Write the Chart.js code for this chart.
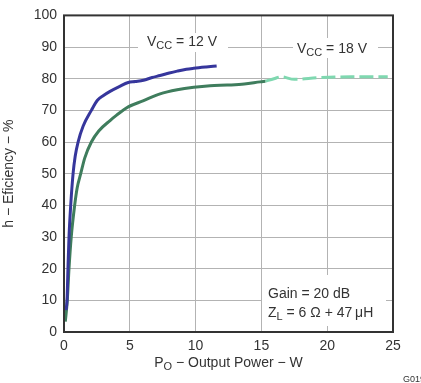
<!DOCTYPE html>
<html>
<head>
<meta charset="utf-8">
<script src="https://cdn.jsdelivr.net/npm/chart.js@4"></script>
<style>html,body{margin:0;padding:0;background:#fff;}canvas{display:block;}</style>
</head>
<body>
<canvas id="c" width="421" height="383"></canvas>
<script>
// Vcc = 12 V curve (blue)
const v12X = [0.15, 0.23, 0.3, 0.38, 0.51, 0.69, 0.85, 1.07, 1.45, 2.08, 2.54, 3.0, 3.5, 4.2, 4.88, 5.4, 6.04, 6.7, 7.3, 8.0, 8.6, 9.3, 9.86, 10.8, 11.6];
const v12Y = [6.9, 10, 20, 30, 40, 50, 55.5, 60, 65, 70, 73.2, 74.7, 76, 77.5, 78.8, 79.1, 79.5, 80.4, 81, 81.8, 82.4, 83, 83.3, 83.7, 84];
// Vcc = 18 V curve (dark green, solid part)
const v18X = [0.1, 0.25, 0.38, 0.55, 0.81, 1.0, 1.27, 1.58, 2.08, 2.64, 3.5, 4.0, 4.88, 6.0, 7.3, 8.6, 9.86, 11.1, 12.4, 13.7, 14.9, 15.3];
const v18Y = [3.3, 10, 20, 30, 40, 45.5, 50, 55, 60, 63.5, 66.8, 68.5, 71.1, 73, 75.2, 76.5, 77.3, 77.8, 78, 78.3, 79, 79.2];
// Vcc = 18 V curve (light green, dashed part)
const v18dX = [15.3, 15.95, 16.5, 17.5, 19.3, 21.8, 24.6];
const v18dY = [79.2, 80, 80.6, 79.8, 80.3, 80.6, 80.6];
const xTicks = [0, 5, 10, 15, 20, 25];
const yTicks = [0, 10, 20, 30, 40, 50, 60, 70, 80, 90, 100];

const FONT = '"Liberation Sans", Arial, sans-serif';
const TXT = '#333';
const pts = (xs, ys) => xs.map((x, i) => ({x, y: ys[i]}));

function drawParts(ctx, x, y, parts, align) {
  let w = 0;
  parts.forEach(p => { ctx.font = (p[1] ? '11px ' : '14px ') + FONT; w += ctx.measureText(p[0]).width; });
  let cx = align === 'center' ? x - w / 2 : x;
  ctx.textAlign = 'left';
  ctx.textBaseline = 'alphabetic';
  parts.forEach(p => {
    ctx.font = (p[1] ? '11px ' : '14px ') + FONT;
    ctx.fillText(p[0], cx, y + (p[1] ? 3 : 0));
    cx += ctx.measureText(p[0]).width;
  });
}

const deco = {
  id: 'deco',
  beforeDatasetsDraw(chart) {
    const ctx = chart.ctx;
    ctx.save();
    ctx.fillStyle = '#fff';
    ctx.fillRect(138, 33, 90, 19);
    ctx.fillRect(293, 38, 85, 20);
    ctx.fillRect(262, 275, 124, 51);
    ctx.restore();
  },
  afterDraw(chart) {
    const ctx = chart.ctx;
    const a = chart.chartArea;
    ctx.save();
    ctx.strokeStyle = '#333';
    ctx.lineWidth = 2;
    ctx.strokeRect(a.left, a.top, a.right - a.left, a.bottom - a.top);
    ctx.fillStyle = TXT;
    drawParts(ctx, 147, 46, [['V', 0], ['CC', 1], [' = 12 V', 0]]);
    drawParts(ctx, 297, 53, [['V', 0], ['CC', 1], [' = 18 V', 0]]);
    drawParts(ctx, 268, 298, [['Gain = 20 dB', 0]]);
    drawParts(ctx, 268, 317, [['Z', 0], ['L', 1], [' = 6 \u03A9 + 47\u2009\u03BCH', 0]]);
    drawParts(ctx, (a.left + a.right) / 2, 367, [['P', 0], ['O', 1], [' \u2212 Output Power \u2212 W', 0]], 'center');
    ctx.font = '9px ' + FONT;
    ctx.textAlign = 'left';
    ctx.fillText('G019', 403, 382);
    ctx.translate(13, (a.top + a.bottom) / 2);
    ctx.rotate(-Math.PI / 2);
    ctx.font = '14px ' + FONT;
    ctx.textAlign = 'center';
    ctx.fillText('h \u2212 Eficiency \u2212 %', 0, 0);
    ctx.restore();
  }
};

new Chart(document.getElementById('c'), {
  type: 'line',
  data: {
    datasets: [
      {data: pts(v12X, v12Y), borderColor: '#36369c', borderWidth: 3, pointRadius: 0, cubicInterpolationMode: 'monotone', fill: false},
      {data: pts(v18X, v18Y), borderColor: '#3f7d5d', borderWidth: 3, pointRadius: 0, cubicInterpolationMode: 'monotone', fill: false},
      {data: pts(v18dX, v18dY), borderColor: '#7fd8b0', borderWidth: 3, borderDash: [14, 5], pointRadius: 0, cubicInterpolationMode: 'monotone', fill: false}
    ]
  },
  options: {
    responsive: false,
    animation: false,
    layout: {padding: {left: 0, top: 5, right: 28, bottom: 0}},
    plugins: {legend: {display: false}, tooltip: {enabled: false}},
    scales: {
      x: {
        type: 'linear', min: 0, max: 25,
        afterFit: s => { s.height = 51; },
        afterBuildTicks: s => { s.ticks = xTicks.map(v => ({value: v})); },
        grid: {color: '#b3b3b3', lineWidth: 1, drawTicks: false},
        border: {display: false},
        ticks: {padding: 6, color: TXT, font: {size: 14, family: FONT}, maxRotation: 0}
      },
      y: {
        type: 'linear', min: 0, max: 100,
        afterFit: s => { s.width = 64; },
        afterBuildTicks: s => { s.ticks = yTicks.map(v => ({value: v})); },
        grid: {color: '#b3b3b3', lineWidth: 1, drawTicks: false},
        border: {display: false},
        ticks: {padding: 7, color: TXT, font: {size: 14, family: FONT}}
      }
    }
  },
  plugins: [deco]
});
</script>
</body>
</html>
